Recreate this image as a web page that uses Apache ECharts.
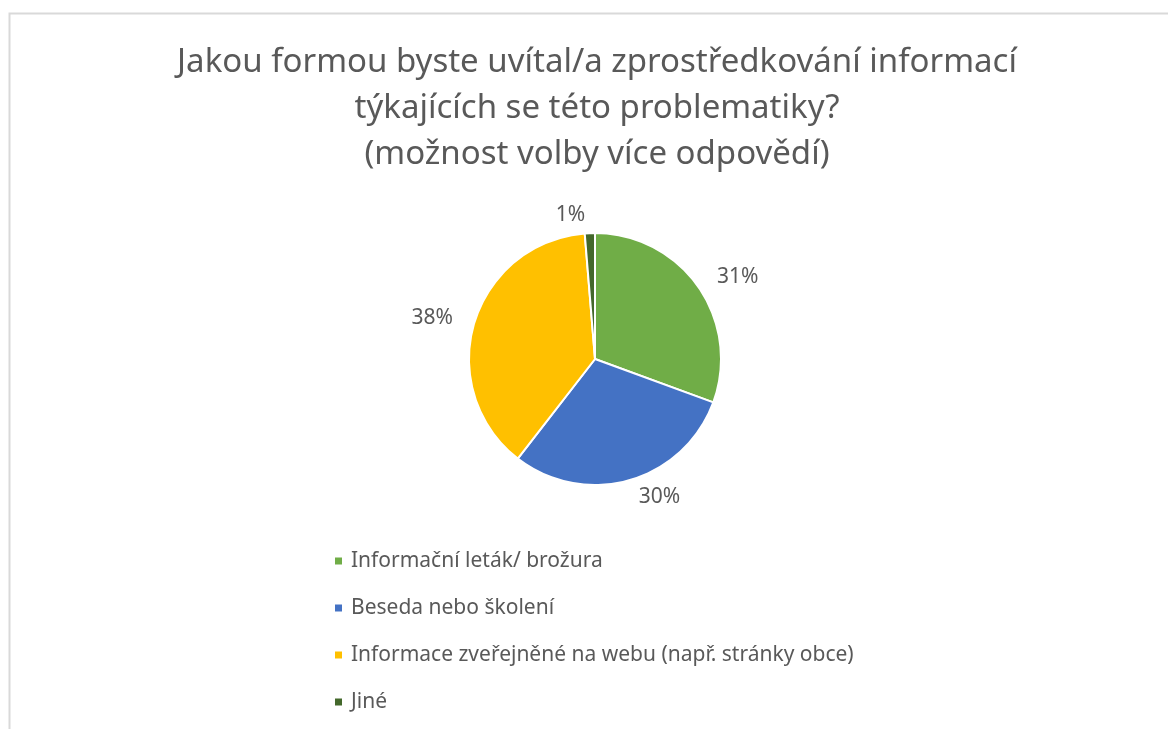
<!DOCTYPE html>
<html>
<head>
<meta charset="utf-8">
<script src="https://cdn.jsdelivr.net/npm/echarts@6/dist/echarts.min.js"></script>
<style>
  html, body { margin: 0; padding: 0; background: #fff; }
  #chart { width: 1168px; height: 729px; }
</style>
</head>
<body>
<div id="chart"></div>
<script>
var titleText = 'Jakou formou byste uvítal/a zprostředkování informací\ntýkajících se této problematiky?\n(možnost volby více odpovědí)';
var categories = [
  'Informační leták/ brožura',
  'Beseda nebo školení',
  'Informace zveřejněné na webu (např. stránky obce)',
  'Jiné'
];
var values = [30.6, 29.9, 38.2, 1.3];
var colors = ['#70AD47', '#4472C4', '#FFC000', '#43682B'];

(function() {
  var chart = echarts.init(document.getElementById('chart'), null, { renderer: 'canvas' });
  var font = '"Noto Sans", "Open Sans", sans-serif';
  var textColor = '#595959';

  var data = categories.map(function(name, i) {
    return { name: name, value: values[i], itemStyle: { color: colors[i] } };
  });

  chart.setOption({
    animation: false,
    graphic: [{
      type: 'rect',
      shape: { x: 9.5, y: 13.5, width: 1300, height: 800 },
      style: { fill: 'none', stroke: '#d9d9d9', lineWidth: 2 },
      silent: true
    }],
    title: {
      text: titleText,
      left: 592,
      textAlign: 'center',
      top: 35,
      textStyle: {
        color: textColor,
        fontFamily: font,
        fontSize: 33,
        fontWeight: 'normal',
        lineHeight: 46
      }
    },
    legend: {
      orient: 'vertical',
      left: 333,
      top: 550,
      padding: 0,
      itemWidth: 9,
      itemHeight: 9,
      itemGap: 25,
      icon: 'rect',
      data: categories,
      textStyle: {
        color: textColor,
        fontFamily: font,
        fontSize: 21,
        lineHeight: 22,
        padding: [0, 0, 0, 3]
      }
    },
    series: [{
      type: 'pie',
      center: [595, 359],
      radius: 126,
      startAngle: 90,
      clockwise: true,
      avoidLabelOverlap: false,
      data: data,
      itemStyle: { borderColor: '#fff', borderWidth: 2 },
      label: {
        show: true,
        position: 'outside',
        distanceToLabelLine: 4,
        color: textColor,
        fontFamily: font,
        fontSize: 21,
        formatter: function(p) { return Math.round(p.percent) + '%'; }
      },
      labelLine: { show: false, length: 18, length2: 0 },
      emphasis: { disabled: true }
    }]
  });
  window.addEventListener('resize', function() { chart.resize(); });
})();
</script>
</body>
</html>
